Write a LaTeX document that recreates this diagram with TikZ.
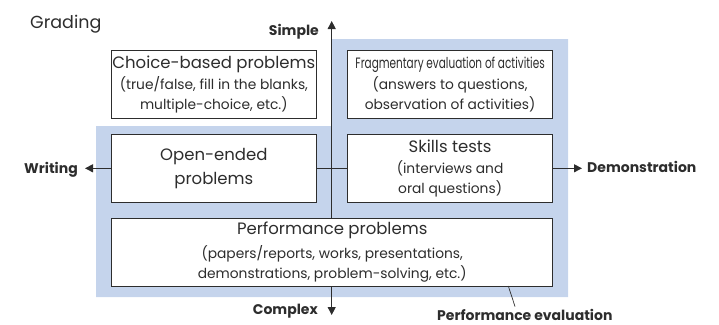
\documentclass[tikz,border=0pt]{standalone}
\usepackage{fontspec}
\setmainfont{Poppins}
\usetikzlibrary{arrows.meta}
\definecolor{bluebg}{RGB}{197,212,236}
\definecolor{ink}{RGB}{45,45,45}
\newcommand{\titlef}{\fontsize{16.5}{24}\selectfont}
\newcommand{\subf}{\fontsize{13.8}{20}\selectfont}
\newcommand{\condf}{\fontsize{15}{20}\selectfont}
\begin{document}
\begin{tikzpicture}[x=1pt,y=-1pt,
  box/.style={draw=ink, fill=white, line width=0.8pt, inner sep=0pt, align=center, text=ink, font=\subf},
  axis/.style={draw=ink, line width=0.9pt, {Triangle[length=8pt,width=8pt]}-{Triangle[length=8pt,width=8pt]}},
  axlabel/.style={font=\fontsize{14}{16}\selectfont\bfseries, text=ink, inner sep=0pt},
  leader/.style={draw=ink, line width=0.7pt}]
\useasboundingbox (0,0) rectangle (719,324);
\fill[bluebg] (96,126) -- (332,126) -- (332,39) -- (568,39) -- (568,297) -- (96,297) -- cycle;
\coordinate (wend) at (85,168.3);
\coordinate (dend) at (582,168.3);
\coordinate (send) at (331.7,21);
\coordinate (cend) at (331.7,315);
\draw[axis] (wend) -- (dend);
\draw[axis] (cend) -- (send);
\node[box, minimum width=204.3pt, minimum height=67.6pt] (choice) at (213.85,84.5)
  {{\titlef Choice-based problems}\\[1pt](true/false, fill in the blanks,\\multiple-choice, etc.)};
\node[box, minimum width=205.2pt, minimum height=67.6pt] (frag) at (450.1,84.5)
  {{\condf\scalebox{0.7}[1]{Fragmentary evaluation of activities}}\\[1pt](answers to questions,\\observation of activities)};
\node[box, minimum width=204.3pt, minimum height=68pt, font=\titlef] (open) at (213.85,168.3)
  {Open-ended\\problems};
\node[box, minimum width=205.2pt, minimum height=68pt] (skills) at (450.1,168.3)
  {{\titlef Skills tests}\\[1pt](interviews and\\oral questions)};
\node[box, minimum width=441pt, minimum height=68pt] (perf) at (332.2,252)
  {{\titlef Performance problems}\\[4pt](papers/reports, works, presentations,\\demonstrations, problem-solving, etc.)};
\node[anchor=base west, inner sep=0pt, text=ink, font=\fontsize{17.5}{20}\selectfont] (grading) at (30,28.3) {Grading};
\node[axlabel, anchor=base east] (simple) at (319,35) {Simple};
\node[axlabel, anchor=base east] (writing) at (78,173.3) {Writing};
\node[axlabel, anchor=base west] (demo) at (587,172.3) {Demonstration};
\node[axlabel, anchor=base east] (complex) at (318,314) {Complex};
\node[axlabel, anchor=base west] (pereval) at (437,320) {Performance evaluation};
\coordinate (leadtop) at (508.3,286);
\coordinate (leadbot) at (515,306.5);
\draw[leader] (leadtop) -- (leadbot);
\end{tikzpicture}
\end{document}
